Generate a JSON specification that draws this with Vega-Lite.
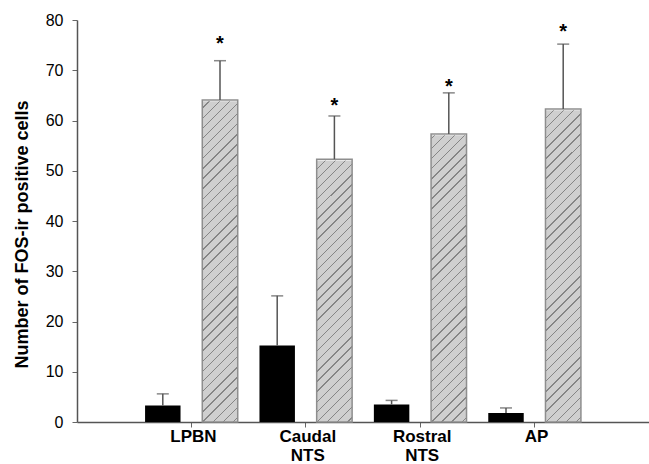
{
  "$schema": "https://vega.github.io/schema/vega-lite/v6.json",
  "width": 572,
  "height": 402,
  "autosize": "none",
  "padding": {"left": 77, "top": 20, "right": 0, "bottom": 42},
  "background": "white",
  "config": {"view": {"stroke": null}, "font": "Liberation Sans"},
  "data": {"values": [
    {"region": "LPBN", "group": "control", "mean": 3.3, "top": 5.6},
    {"region": "LPBN", "group": "treated", "mean": 64.1, "top": 71.9, "star": 76.2},
    {"region": "Caudal NTS", "group": "control", "mean": 15.2, "top": 25.1},
    {"region": "Caudal NTS", "group": "treated", "mean": 52.3, "top": 60.9, "star": 63.9},
    {"region": "Rostral NTS", "group": "control", "mean": 3.5, "top": 4.3},
    {"region": "Rostral NTS", "group": "treated", "mean": 57.3, "top": 65.5, "star": 67.7},
    {"region": "AP", "group": "control", "mean": 1.8, "top": 2.8},
    {"region": "AP", "group": "treated", "mean": 62.3, "top": 75.2, "star": 78.7}
  ]},
  "encoding": {
    "x": {
      "field": "region", "type": "nominal",
      "sort": ["LPBN", "Caudal NTS", "Rostral NTS", "AP"],
      "scale": {"paddingInner": 0, "paddingOuter": 0.5},
      "axis": {
        "title": null, "labelAngle": 0, "labelFontSize": 17, "labelFontWeight": "bold",
        "labelColor": "#000", "labelPadding": 1, "labelLineHeight": 19,
        "labelExpr": "split(datum.label, ' ')", "labelOffset": 2,
        "tickSize": 5, "tickColor": "#666", "domainColor": "#555", "domainWidth": 1.5
      }
    },
    "xOffset": {
      "field": "group", "type": "nominal",
      "scale": {"domain": ["control", "treated"], "paddingInner": 0.38, "paddingOuter": 0.19}
    }
  },
  "layer": [
    {
      "transform": [{"filter": "datum.group === 'control'"}],
      "mark": {"type": "bar", "color": "#000000"},
      "encoding": {
        "y": {
          "field": "mean", "type": "quantitative",
          "scale": {"domain": [0, 80], "nice": false},
          "title": "Number of FOS-ir positive cells",
          "axis": {
            "values": [0, 10, 20, 30, 40, 50, 60, 70, 80], "grid": false,
            "tickSize": 5, "labelFontSize": 16, "labelPadding": 9, "labelColor": "#000",
            "tickColor": "#666", "domainColor": "#555", "domainWidth": 1.5,
            "titleFontSize": 18, "titleFontWeight": "bold", "titleColor": "#000",
            "titleX": -50, "titleY": 214, "titleBaseline": "alphabetic", "titleAngle": -90, "titleAlign": "center"
          }
        }
      }
    },
    {
      "transform": [{"filter": "datum.group === 'treated'"}],
      "mark": {
        "type": "bar",
        "fill": {
          "gradient": "linear", "x1": 1, "y1": 1, "x2": 0.9118, "y2": 0,
          "stops": [
            {"offset": 0, "color": "#cfcfcf"},
            {"offset": 0.010, "color": "#cfcfcf"}, {"offset": 0.010, "color": "#858585"}, {"offset": 0.0135, "color": "#858585"}, {"offset": 0.0135, "color": "#cfcfcf"},
            {"offset": 0.035, "color": "#cfcfcf"}, {"offset": 0.035, "color": "#858585"}, {"offset": 0.0385, "color": "#858585"}, {"offset": 0.0385, "color": "#cfcfcf"},
            {"offset": 0.060, "color": "#cfcfcf"}, {"offset": 0.060, "color": "#858585"}, {"offset": 0.0635, "color": "#858585"}, {"offset": 0.0635, "color": "#cfcfcf"},
            {"offset": 0.085, "color": "#cfcfcf"}, {"offset": 0.085, "color": "#858585"}, {"offset": 0.0885, "color": "#858585"}, {"offset": 0.0885, "color": "#cfcfcf"},
            {"offset": 0.110, "color": "#cfcfcf"}, {"offset": 0.110, "color": "#858585"}, {"offset": 0.1135, "color": "#858585"}, {"offset": 0.1135, "color": "#cfcfcf"},
            {"offset": 0.135, "color": "#cfcfcf"}, {"offset": 0.135, "color": "#858585"}, {"offset": 0.1385, "color": "#858585"}, {"offset": 0.1385, "color": "#cfcfcf"},
            {"offset": 0.160, "color": "#cfcfcf"}, {"offset": 0.160, "color": "#858585"}, {"offset": 0.1635, "color": "#858585"}, {"offset": 0.1635, "color": "#cfcfcf"},
            {"offset": 0.185, "color": "#cfcfcf"}, {"offset": 0.185, "color": "#858585"}, {"offset": 0.1885, "color": "#858585"}, {"offset": 0.1885, "color": "#cfcfcf"},
            {"offset": 0.210, "color": "#cfcfcf"}, {"offset": 0.210, "color": "#858585"}, {"offset": 0.2135, "color": "#858585"}, {"offset": 0.2135, "color": "#cfcfcf"},
            {"offset": 0.235, "color": "#cfcfcf"}, {"offset": 0.235, "color": "#858585"}, {"offset": 0.2385, "color": "#858585"}, {"offset": 0.2385, "color": "#cfcfcf"},
            {"offset": 0.260, "color": "#cfcfcf"}, {"offset": 0.260, "color": "#858585"}, {"offset": 0.2635, "color": "#858585"}, {"offset": 0.2635, "color": "#cfcfcf"},
            {"offset": 0.285, "color": "#cfcfcf"}, {"offset": 0.285, "color": "#858585"}, {"offset": 0.2885, "color": "#858585"}, {"offset": 0.2885, "color": "#cfcfcf"},
            {"offset": 0.310, "color": "#cfcfcf"}, {"offset": 0.310, "color": "#858585"}, {"offset": 0.3135, "color": "#858585"}, {"offset": 0.3135, "color": "#cfcfcf"},
            {"offset": 0.335, "color": "#cfcfcf"}, {"offset": 0.335, "color": "#858585"}, {"offset": 0.3385, "color": "#858585"}, {"offset": 0.3385, "color": "#cfcfcf"},
            {"offset": 0.360, "color": "#cfcfcf"}, {"offset": 0.360, "color": "#858585"}, {"offset": 0.3635, "color": "#858585"}, {"offset": 0.3635, "color": "#cfcfcf"},
            {"offset": 0.385, "color": "#cfcfcf"}, {"offset": 0.385, "color": "#858585"}, {"offset": 0.3885, "color": "#858585"}, {"offset": 0.3885, "color": "#cfcfcf"},
            {"offset": 0.410, "color": "#cfcfcf"}, {"offset": 0.410, "color": "#858585"}, {"offset": 0.4135, "color": "#858585"}, {"offset": 0.4135, "color": "#cfcfcf"},
            {"offset": 0.435, "color": "#cfcfcf"}, {"offset": 0.435, "color": "#858585"}, {"offset": 0.4385, "color": "#858585"}, {"offset": 0.4385, "color": "#cfcfcf"},
            {"offset": 0.460, "color": "#cfcfcf"}, {"offset": 0.460, "color": "#858585"}, {"offset": 0.4635, "color": "#858585"}, {"offset": 0.4635, "color": "#cfcfcf"},
            {"offset": 0.485, "color": "#cfcfcf"}, {"offset": 0.485, "color": "#858585"}, {"offset": 0.4885, "color": "#858585"}, {"offset": 0.4885, "color": "#cfcfcf"},
            {"offset": 0.510, "color": "#cfcfcf"}, {"offset": 0.510, "color": "#858585"}, {"offset": 0.5135, "color": "#858585"}, {"offset": 0.5135, "color": "#cfcfcf"},
            {"offset": 0.535, "color": "#cfcfcf"}, {"offset": 0.535, "color": "#858585"}, {"offset": 0.5385, "color": "#858585"}, {"offset": 0.5385, "color": "#cfcfcf"},
            {"offset": 0.560, "color": "#cfcfcf"}, {"offset": 0.560, "color": "#858585"}, {"offset": 0.5635, "color": "#858585"}, {"offset": 0.5635, "color": "#cfcfcf"},
            {"offset": 0.585, "color": "#cfcfcf"}, {"offset": 0.585, "color": "#858585"}, {"offset": 0.5885, "color": "#858585"}, {"offset": 0.5885, "color": "#cfcfcf"},
            {"offset": 0.610, "color": "#cfcfcf"}, {"offset": 0.610, "color": "#858585"}, {"offset": 0.6135, "color": "#858585"}, {"offset": 0.6135, "color": "#cfcfcf"},
            {"offset": 0.635, "color": "#cfcfcf"}, {"offset": 0.635, "color": "#858585"}, {"offset": 0.6385, "color": "#858585"}, {"offset": 0.6385, "color": "#cfcfcf"},
            {"offset": 0.660, "color": "#cfcfcf"}, {"offset": 0.660, "color": "#858585"}, {"offset": 0.6635, "color": "#858585"}, {"offset": 0.6635, "color": "#cfcfcf"},
            {"offset": 0.685, "color": "#cfcfcf"}, {"offset": 0.685, "color": "#858585"}, {"offset": 0.6885, "color": "#858585"}, {"offset": 0.6885, "color": "#cfcfcf"},
            {"offset": 0.710, "color": "#cfcfcf"}, {"offset": 0.710, "color": "#858585"}, {"offset": 0.7135, "color": "#858585"}, {"offset": 0.7135, "color": "#cfcfcf"},
            {"offset": 0.735, "color": "#cfcfcf"}, {"offset": 0.735, "color": "#858585"}, {"offset": 0.7385, "color": "#858585"}, {"offset": 0.7385, "color": "#cfcfcf"},
            {"offset": 0.760, "color": "#cfcfcf"}, {"offset": 0.760, "color": "#858585"}, {"offset": 0.7635, "color": "#858585"}, {"offset": 0.7635, "color": "#cfcfcf"},
            {"offset": 0.785, "color": "#cfcfcf"}, {"offset": 0.785, "color": "#858585"}, {"offset": 0.7885, "color": "#858585"}, {"offset": 0.7885, "color": "#cfcfcf"},
            {"offset": 0.810, "color": "#cfcfcf"}, {"offset": 0.810, "color": "#858585"}, {"offset": 0.8135, "color": "#858585"}, {"offset": 0.8135, "color": "#cfcfcf"},
            {"offset": 0.835, "color": "#cfcfcf"}, {"offset": 0.835, "color": "#858585"}, {"offset": 0.8385, "color": "#858585"}, {"offset": 0.8385, "color": "#cfcfcf"},
            {"offset": 0.860, "color": "#cfcfcf"}, {"offset": 0.860, "color": "#858585"}, {"offset": 0.8635, "color": "#858585"}, {"offset": 0.8635, "color": "#cfcfcf"},
            {"offset": 0.885, "color": "#cfcfcf"}, {"offset": 0.885, "color": "#858585"}, {"offset": 0.8885, "color": "#858585"}, {"offset": 0.8885, "color": "#cfcfcf"},
            {"offset": 0.910, "color": "#cfcfcf"}, {"offset": 0.910, "color": "#858585"}, {"offset": 0.9135, "color": "#858585"}, {"offset": 0.9135, "color": "#cfcfcf"},
            {"offset": 0.935, "color": "#cfcfcf"}, {"offset": 0.935, "color": "#858585"}, {"offset": 0.9385, "color": "#858585"}, {"offset": 0.9385, "color": "#cfcfcf"},
            {"offset": 0.960, "color": "#cfcfcf"}, {"offset": 0.960, "color": "#858585"}, {"offset": 0.9635, "color": "#858585"}, {"offset": 0.9635, "color": "#cfcfcf"},
            {"offset": 0.985, "color": "#cfcfcf"}, {"offset": 0.985, "color": "#858585"}, {"offset": 0.9885, "color": "#858585"}, {"offset": 0.9885, "color": "#cfcfcf"},
            {"offset": 1, "color": "#cfcfcf"}
          ]
        }
      },
      "encoding": {
        "y": {"datum": 80, "type": "quantitative", "title": "Number of FOS-ir positive cells"},
        "y2": {"datum": 0}
      }
    },
    {
      "transform": [{"filter": "datum.group === 'treated'"}],
      "mark": {"type": "bar", "fill": "#ffffff", "stroke": "#ffffff", "strokeWidth": 2.5},
      "encoding": {
        "y": {"field": "mean", "type": "quantitative", "title": "Number of FOS-ir positive cells"},
        "y2": {"datum": 80}
      }
    },
    {
      "transform": [{"filter": "datum.group === 'treated'"}],
      "mark": {"type": "bar", "filled": false, "stroke": "#8e8e8e", "strokeWidth": 1.5},
      "encoding": {
        "y": {"field": "mean", "type": "quantitative", "title": "Number of FOS-ir positive cells"}
      }
    },
    {
      "mark": {"type": "rule", "color": "#555555", "strokeWidth": 1.5},
      "encoding": {
        "y": {"field": "mean", "type": "quantitative", "title": "Number of FOS-ir positive cells"},
        "y2": {"field": "top"}
      }
    },
    {
      "mark": {"type": "tick", "size": 12, "thickness": 1.5, "color": "#555555"},
      "encoding": {
        "y": {"field": "top", "type": "quantitative", "title": "Number of FOS-ir positive cells"}
      }
    },
    {
      "transform": [{"filter": "isValid(datum.star)"}],
      "mark": {"type": "text", "text": "*", "fontSize": 20, "fontWeight": "bold", "color": "#000", "baseline": "alphabetic", "dy": 11},
      "encoding": {
        "y": {"field": "star", "type": "quantitative", "title": "Number of FOS-ir positive cells"}
      }
    }
  ]
}
